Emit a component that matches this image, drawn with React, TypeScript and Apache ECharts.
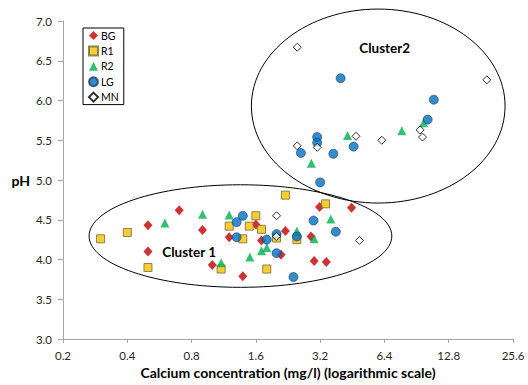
import React, { useEffect, useRef } from "react";
import * as echarts from "echarts";

// x-axis tick values (log base 2 scale)
const xTicks = [0.2, 0.4, 0.8, 1.6, 3.2, 6.4, 12.8, 25.6];
const yTicks = [3.0, 3.5, 4.0, 4.5, 5.0, 5.5, 6.0, 6.5, 7.0];

// Calcium concentration (mg/l) and pH per sample group
const bgCa = [0.5, 0.5, 0.7, 0.9, 1.0, 1.2, 1.39, 1.6, 1.7, 2.1, 2.2, 2.9, 3.0, 3.18, 3.42, 4.49];
const bgPH = [4.43, 4.1, 4.62, 4.37, 3.93, 4.28, 3.79, 4.44, 4.24, 4.06, 4.36, 4.29, 3.98, 4.66, 3.97, 4.65];

const r1Ca = [0.3, 0.4, 0.5, 1.1, 1.2, 1.39, 1.49, 1.6, 1.7, 1.8, 2.0, 2.2, 2.49, 3.39];
const r1PH = [4.26, 4.34, 3.9, 3.88, 4.42, 4.26, 4.42, 4.55, 4.38, 3.88, 4.27, 4.81, 4.25, 4.7];

const r2Ca = [0.6, 0.9, 1.1, 1.2, 1.5, 1.7, 1.8, 2.49, 3.0, 3.59, 2.91, 4.3, 7.72, 9.76];
const r2PH = [4.46, 4.57, 3.96, 4.56, 4.03, 4.11, 4.15, 4.36, 4.26, 4.51, 5.21, 5.56, 5.62, 5.72];

const lgCa = [1.3, 1.3, 1.39, 1.8, 2.0, 2.0, 2.4, 2.49, 2.98, 3.79, 3.2, 2.6, 3.1, 3.1, 3.69, 4.59, 3.99, 10.2, 10.9];
const lgPH = [4.47, 4.28, 4.55, 4.25, 4.32, 4.08, 3.78, 4.29, 4.49, 4.35, 4.97, 5.34, 5.54, 5.47, 5.33, 5.42, 6.28, 5.76, 6.01];

const mnCa = [2.0, 2.0, 4.89, 2.5, 2.5, 3.1, 4.71, 6.22, 9.4, 9.65, 19.3];
const mnPH = [4.55, 4.29, 4.24, 6.67, 5.43, 5.41, 5.55, 5.5, 5.63, 5.54, 6.26];

// Cluster ellipses: [xMin, xMax] in mg/l, [pHMin, pHMax]
const cluster1X = [0.265, 6.93];
const cluster1Y = [3.65, 4.94];
const cluster2X = [1.525, 23.5];
const cluster2Y = [4.71, 7.15];
const cluster1Label = { x: 0.78, y: 4.09, text: "Cluster 1" };
const cluster2Label = { x: 6.42, y: 6.66, text: "Cluster2" };

const X_MIN = xTicks[0];
const toX = (c: number) => Math.log2(c / X_MIN);
const pts = (ca: number[], ph: number[]) => ca.map((c, i) => [toX(c), ph[i]]);

const FONT = "Lato, 'Liberation Sans', sans-serif";

export default function App() {
  const ref = useRef<HTMLDivElement>(null);
  useEffect(() => {
    if (!ref.current) return;
    const chart = echarts.init(ref.current, undefined, { renderer: "svg" });
    const option: any = {
      animation: false,
      textStyle: { fontFamily: FONT },
      grid: { left: 63, right: 15, top: 21, bottom: 46 },
      legend: {
        orient: "vertical",
        left: 83,
        top: 28,
        padding: [2, 5, 2, 5],
        itemWidth: 9,
        itemHeight: 9,
        itemGap: 4.4,
        borderColor: "#000",
        borderWidth: 1,
        textStyle: { fontSize: 10.5, color: "#000", fontFamily: FONT, padding: [0, 0, 0, -2] },
        data: ["BG", "R1", "R2", "LG", "MN"],
      },
      xAxis: {
        type: "value",
        min: 0,
        max: xTicks.length - 1,
        interval: 1,
        name: "Calcium concentration (mg/l) (logarithmic scale)",
        nameLocation: "middle",
        nameGap: 22,
        nameTextStyle: { fontWeight: "bold", fontSize: 14, color: "#000", fontFamily: FONT },
        axisLine: { lineStyle: { color: "#a6a6a6" } },
        axisTick: { show: true, length: 4, lineStyle: { color: "#a6a6a6" } },
        splitLine: { show: false },
        axisLabel: {
          margin: 10,
          fontSize: 11.5,
          color: "#262626",
          formatter: (v: number) => String(xTicks[Math.round(v)]),
        },
      },
      yAxis: {
        type: "value",
        min: yTicks[0],
        max: yTicks[yTicks.length - 1],
        interval: 0.5,
        name: "pH",
        nameLocation: "middle",
        nameRotate: 0,
        nameGap: 30,
        nameTextStyle: { fontWeight: "bold", fontSize: 14, color: "#000", fontFamily: FONT },
        axisLine: { show: true, lineStyle: { color: "#a6a6a6" } },
        axisTick: { show: true, length: 5, lineStyle: { color: "#a6a6a6" } },
        splitLine: { show: false },
        axisLabel: {
          margin: 11,
          fontSize: 11.5,
          color: "#262626",
          formatter: (v: number) => v.toFixed(1),
        },
      },
      series: [
        {
          name: "BG",
          type: "scatter",
          symbol: "diamond",
          symbolSize: [9, 10],
          itemStyle: { color: "#C00000" },
          data: pts(bgCa, bgPH),
        },
        {
          name: "R1",
          type: "scatter",
          symbol: "rect",
          symbolSize: 8,
          itemStyle: { color: "#FFC000", borderColor: "#6f6a35", borderWidth: 1 },
          data: pts(r1Ca, r1PH),
        },
        {
          name: "R2",
          type: "scatter",
          symbol: "triangle",
          symbolSize: 9,
          itemStyle: { color: "#00B050" },
          data: pts(r2Ca, r2PH),
        },
        {
          name: "LG",
          type: "scatter",
          symbol: "circle",
          symbolSize: 9,
          itemStyle: { color: "#0070C0", borderColor: "#1f3f66", borderWidth: 0.8 },
          data: pts(lgCa, lgPH),
        },
        {
          name: "MN",
          type: "scatter",
          symbol: "diamond",
          symbolSize: 8,
          itemStyle: { color: "#ffffff", borderColor: "#000", borderWidth: 1 },
          data: pts(mnCa, mnPH),
        },
      ],
    };
    chart.setOption(option);

    const px = (c: number, p: number) => chart.convertToPixel({ gridIndex: 0 }, [toX(c), p]) as number[];
    const ell = (xs: number[], ys: number[]) => {
      const a = px(xs[0], ys[0]);
      const b = px(xs[1], ys[1]);
      return {
        type: "ellipse",
        shape: {
          cx: (a[0] + b[0]) / 2,
          cy: (a[1] + b[1]) / 2,
          rx: Math.abs(b[0] - a[0]) / 2,
          ry: Math.abs(b[1] - a[1]) / 2,
        },
        style: { fill: "none", stroke: "#000", lineWidth: 1 },
        z: 1,
      };
    };
    const lbl = (l: { x: number; y: number; text: string }) => {
      const p = px(l.x, l.y);
      return {
        type: "text",
        x: p[0],
        y: p[1],
        z: 10,
        style: {
          text: l.text,
          fill: "#000",
          font: `bold 13.5px ${FONT}`,
          align: "center",
          verticalAlign: "middle",
        },
      };
    };
    chart.setOption({
      graphic: [ell(cluster1X, cluster1Y), ell(cluster2X, cluster2Y), lbl(cluster1Label), lbl(cluster2Label)],
    });
    return () => chart.dispose();
  }, []);
  return <div ref={ref} style={{ position: "absolute", left: 0, top: 0, width: 528, height: 385 }} />;
}
